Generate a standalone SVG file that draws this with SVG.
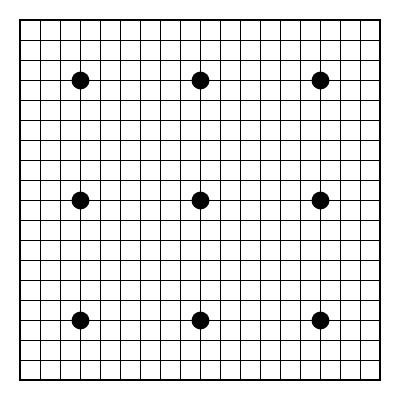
<svg xmlns="http://www.w3.org/2000/svg" width="400" height="400" viewBox="0 0 400 400">
<style>
.grid{stroke:#000;stroke-width:1;fill:none}
.border{stroke:#000;stroke-width:2;fill:none}
.star{fill:#000}
</style>
<rect width="400" height="400" fill="#fff"/>
<g id="grid">
<path class="grid" d="M40.5,20V380M60.5,20V380M80.5,20V380M100.5,20V380M120.5,20V380M140.5,20V380M160.5,20V380M180.5,20V380M200.5,20V380M220.5,20V380M240.5,20V380M260.5,20V380M280.5,20V380M300.5,20V380M320.5,20V380M340.5,20V380M360.5,20V380M20,40.5H380M20,60.5H380M20,80.5H380M20,100.5H380M20,120.5H380M20,140.5H380M20,160.5H380M20,180.5H380M20,200.5H380M20,220.5H380M20,240.5H380M20,260.5H380M20,280.5H380M20,300.5H380M20,320.5H380M20,340.5H380M20,360.5H380"/>
<rect class="border" x="20" y="20" width="360" height="360"/>
</g>
<g id="stars">
<circle class="star" cx="80.5" cy="80.5" r="9"/>
<circle class="star" cx="200.5" cy="80.5" r="9"/>
<circle class="star" cx="320.5" cy="80.5" r="9"/>
<circle class="star" cx="80.5" cy="200.5" r="9"/>
<circle class="star" cx="200.5" cy="200.5" r="9"/>
<circle class="star" cx="320.5" cy="200.5" r="9"/>
<circle class="star" cx="80.5" cy="320.5" r="9"/>
<circle class="star" cx="200.5" cy="320.5" r="9"/>
<circle class="star" cx="320.5" cy="320.5" r="9"/>
</g>
</svg>
